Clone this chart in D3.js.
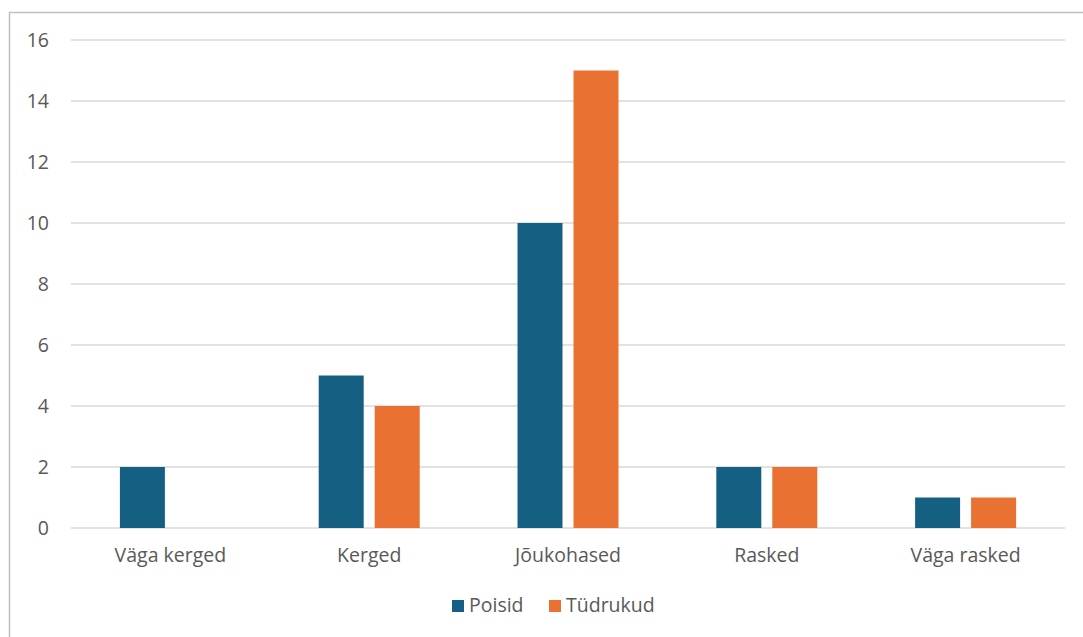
<!DOCTYPE html>
<html><head><meta charset="utf-8">
<script src="https://cdn.jsdelivr.net/npm/d3@7"></script>
<style>html,body{margin:0;padding:0;background:#fff;}svg{display:block;}</style>
</head><body><svg id="c" width="1083" height="637"></svg>
<script>
const categories = ["Väga kerged","Kerged","Jõukohased","Rasked","Väga rasked"];
const seriesNames = ["Poisid","Tüdrukud"];
const poisid = [2,5,10,2,1];
const tydrukud = [0,4,15,2,1];
const yTicks = [0,2,4,6,8,10,12,14,16];
const colors = ["#156082","#E97132"];

(function(){
const svg = d3.select("#c");
const font = "'Open Sans', sans-serif";
const textColor = "#595959";
const fs = 19.5;

// outer border
svg.append("rect").attr("x",9.5).attr("y",12.5).attr("width",1090).attr("height",640)
  .attr("fill","none").attr("stroke","#bfbfbf").attr("stroke-width",1.5);

const pLeft = 71, pRight = 1065, pTop = 40, pBottom = 528;
const x = d3.scaleBand().domain(categories).range([pLeft,pRight]);
const y = d3.scaleLinear().domain([0,16]).range([pBottom,pTop]);

const g = svg.append("g");
g.selectAll("line.grid").data(yTicks).join("line")
  .attr("x1",pLeft).attr("x2",pRight)
  .attr("y1",d=>y(d)).attr("y2",d=>y(d))
  .attr("stroke","#d9d9d9").attr("stroke-width",1.5);

g.selectAll("text.ytick").data(yTicks).join("text")
  .attr("x",49).attr("y",d=>y(d)).attr("dy","0.35em")
  .attr("text-anchor","end").attr("fill",textColor)
  .attr("font-family",font).attr("font-size",fs).text(d=>d);

const bw = 45, gap = 11;
const xs = d3.scaleOrdinal().domain(seriesNames).range([-(gap/2+bw), gap/2]);
const data = [];
categories.forEach((c,i)=>{
  data.push({c, s:seriesNames[0], v:poisid[i]});
  data.push({c, s:seriesNames[1], v:tydrukud[i]});
});
g.selectAll("rect.bar").data(data.filter(d=>d.v>0)).join("rect")
  .attr("x",d=>x(d.c)+x.bandwidth()/2+xs(d.s))
  .attr("width",bw)
  .attr("y",d=>y(d.v)).attr("height",d=>y(0)-y(d.v))
  .attr("fill",d=>colors[seriesNames.indexOf(d.s)]);

g.selectAll("text.xtick").data(categories).join("text")
  .attr("x",d=>x(d)+x.bandwidth()/2).attr("y",562)
  .attr("text-anchor","middle").attr("fill",textColor)
  .attr("font-family",font).attr("font-size",fs).text(d=>d);

// legend
const leg = svg.append("g");
const legX = [452, 549];
seriesNames.forEach((s,i)=>{
  leg.append("rect").attr("x",legX[i]).attr("y",600).attr("width",12).attr("height",12).attr("fill",colors[i]);
  leg.append("text").attr("x",legX[i]+17).attr("y",612).attr("fill",textColor)
    .attr("font-family",font).attr("font-size",fs).text(s);
});
})();
</script></body></html>
